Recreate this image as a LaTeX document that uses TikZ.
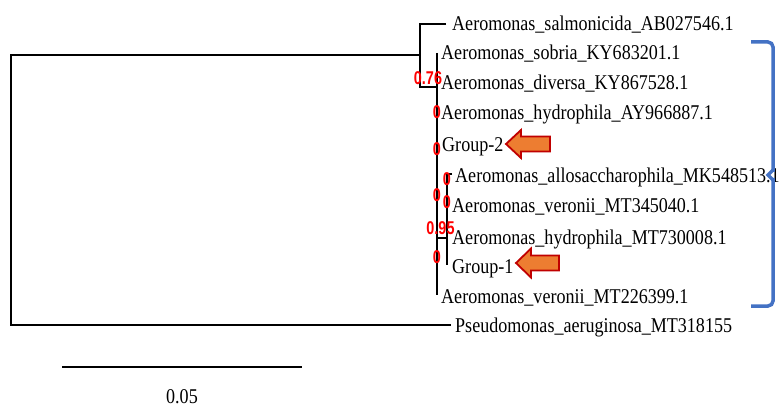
\documentclass[tikz,border=0pt]{standalone}
\usepackage{fontspec}
\setmainfont{Liberation Serif}[FakeStretch=0.86]
\newfontfamily\bsfont{Liberation Sans Bold}[FakeStretch=0.78]
\definecolor{brblue}{HTML}{4472C4}
\definecolor{arrfill}{HTML}{ED7D31}
\definecolor{arrline}{HTML}{C00000}
\begin{document}
\begin{tikzpicture}[x=1pt,y=-1pt,
  branch/.style={line width=2.8pt, line join=miter, line cap=butt},
  leaf/.style={anchor=base west, inner sep=0pt, font=\fontsize{21}{25}\selectfont},
  bs/.style={anchor=center, inner sep=0pt, text=red, font=\bsfont\fontsize{18.5}{18.5}\selectfont},
  grouparrow/.style={fill=arrfill, draw=arrline, line width=1.8pt, line join=miter},
  bracket/.style={draw=brblue, line width=3.5pt}]
\useasboundingbox (0,0) rectangle (779,406);
% tree coordinates
\coordinate (rootTop) at (11,55);
\coordinate (rootBot) at (11,325);
\coordinate (aJoin) at (420,55);
\coordinate (aTop) at (420,24);
\coordinate (aBot) at (420,87);
\coordinate (salmEnd) at (446,24);
\coordinate (bJoin) at (437,87);
\coordinate (bTop) at (437,53);
\coordinate (bBot) at (437,295);
\coordinate (cJoinL) at (437,238);
\coordinate (cJoinR) at (447,238);
\coordinate (cTop) at (447,174);
\coordinate (cTick) at (452,174);
\coordinate (cBot) at (447,265);
\coordinate (pseEnd) at (451,325);
% leaf labels
\node[leaf] (salm) at (452,31) {Aeromonas\_salmonicida\_AB027546.1};
\node[leaf] (sobr) at (441,60) {Aeromonas\_sobria\_KY683201.1};
\node[leaf] (dive) at (441,90) {Aeromonas\_diversa\_KY867528.1};
\node[leaf] (hyAY) at (441,120) {Aeromonas\_hydrophila\_AY966887.1};
\node[leaf] (grp2) at (442,152) {Group-2};
\node[leaf] (allo) at (455,183) {Aeromonas\_allosaccharophila\_MK548513.1};
\node[leaf] (ver1) at (452,213) {Aeromonas\_veronii\_MT345040.1};
\node[leaf] (hyMT) at (452,244) {Aeromonas\_hydrophila\_MT730008.1};
\node[leaf] (grp1) at (452,273) {Group-1};
\node[leaf] (ver2) at (441,303) {Aeromonas\_veronii\_MT226399.1};
\node[leaf] (pseu) at (455,332) {Pseudomonas\_aeruginosa\_MT318155};
% branches
\draw[branch] (aJoin) -- (rootTop) -- (rootBot) -- (pseEnd);
\draw[branch] (salmEnd) -- (aTop) -- (aBot) -- (bJoin);
\draw[branch] (bTop) -- (bBot);
\draw[branch] (cJoinL) -- (cJoinR);
\draw[branch] (cTick) -- (cTop) -- (cBot);
% bootstrap values
\node[bs] (b1) at (428,78.5) {0.76};
\node[bs] (b2) at (437,112) {0};
\node[bs] (b3) at (437,149) {0};
\node[bs] (b4) at (447,179) {0};
\node[bs] (b5) at (437,195) {0};
\node[bs] (b6) at (447,202.5) {0};
\node[bs] (b7) at (440.5,228) {0.95};
\node[bs] (b8) at (437,257) {0};
% group arrows
\coordinate (g2tip) at (506,144);
\draw[grouparrow] (g2tip) -- ++(15,-14) -- ++(0,6.5) -- ++(29,0) -- ++(0,15) -- ++(-29,0) -- ++(0,6.5) -- cycle;
\coordinate (g1tip) at (516,263);
\draw[grouparrow] (g1tip) -- ++(15,-14.5) -- ++(0,7) -- ++(28,0) -- ++(0,15) -- ++(-28,0) -- ++(0,7) -- cycle;
% bracket
\coordinate (brTop) at (751,42);
\coordinate (brMid) at (768,175);
\coordinate (brBot) at (751,306);
\draw[bracket, rounded corners=5pt] (brTop) -- (773,42) -- (773,172);
\draw[bracket, rounded corners=5pt] (773,178) -- (773,306) -- (brBot);
\draw[bracket, line join=miter] (773,170) -- (brMid) -- (773,180);
% scale bar
\coordinate (sbL) at (62,367);
\coordinate (sbR) at (302,367);
\draw[line width=2.8pt] (sbL) -- (sbR);
\node[anchor=base, inner sep=0pt, font=\fontsize{21}{25}\selectfont] (sblab) at (182,403) {0.05};
\end{tikzpicture}
\end{document}
